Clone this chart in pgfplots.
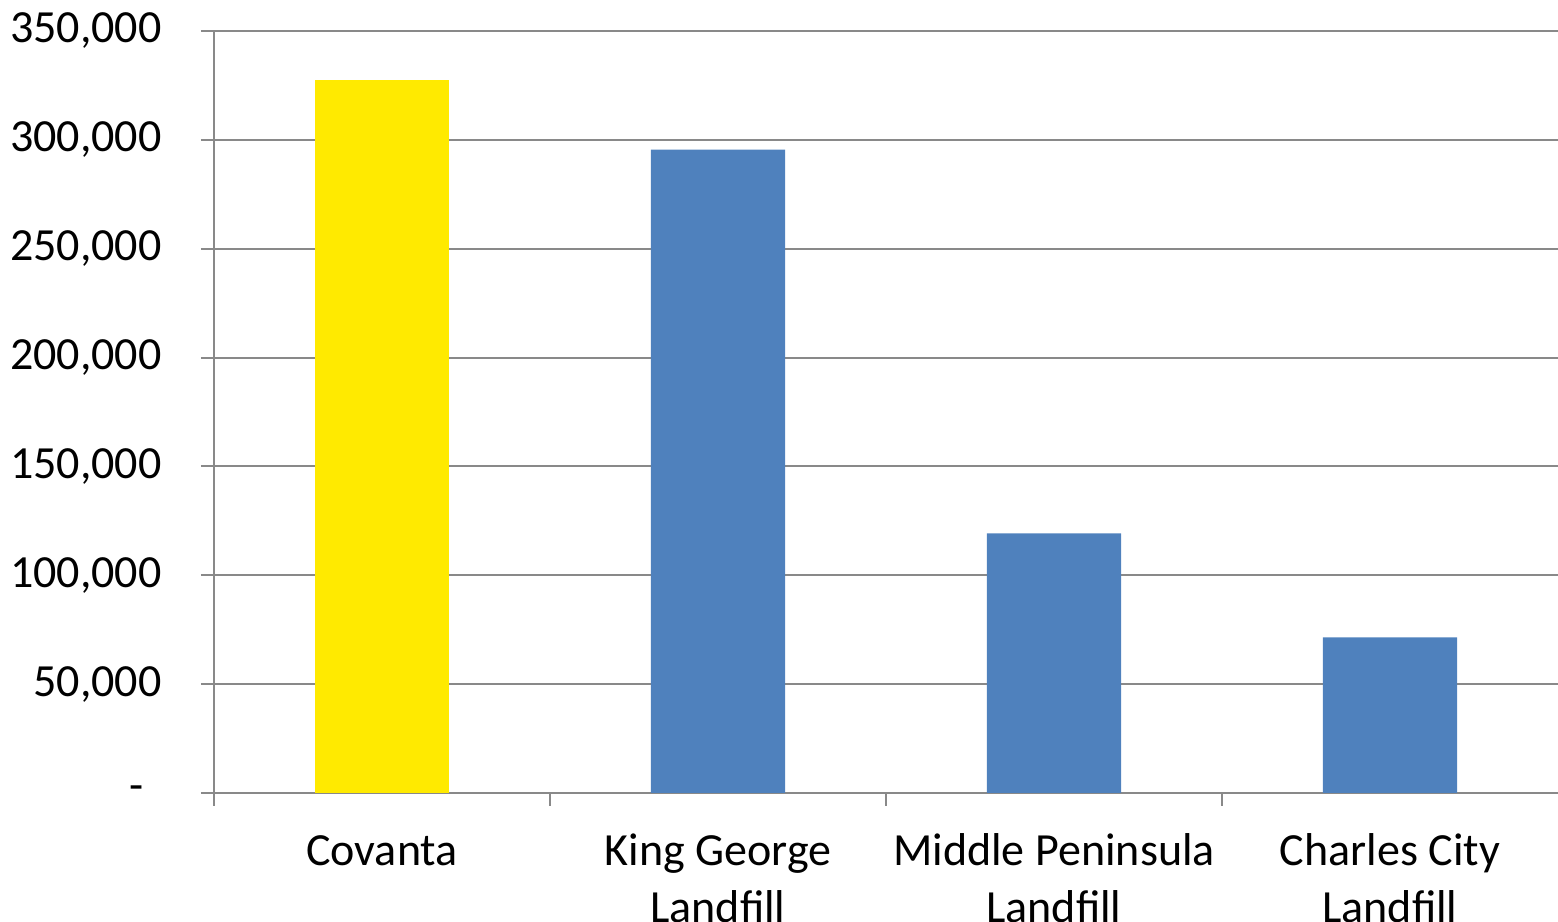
\documentclass[border=0pt]{standalone}
\usepackage{fontspec}
\setmainfont{Carlito}
\usepackage{pgfplots}
\pgfplotsset{compat=1.18}
\definecolor{barblue}{HTML}{4F81BD}
\definecolor{baryellow}{HTML}{FFEA00}
\definecolor{gridgray}{HTML}{898989}
\begin{document}
\begin{tikzpicture}[font=\fontsize{13.1}{16}\selectfont]
\begin{axis}[
    name=ax,
    scale only axis,
    width=13.44cm, height=7.62cm,
    xmin=-0.5, xmax=3.5,
    ymin=0, ymax=350000,
    axis lines*=left,
    axis line style={draw=gridgray, line width=0.6pt},
    scaled y ticks=false,
    ytick={0,50000,100000,150000,200000,250000,300000,350000},
    yticklabels={{\makebox[0.32cm][l]{-}},{50,000},{100,000},{150,000},{200,000},{250,000},{300,000},{350,000}},
    xtick={0,1,2,3},
    xticklabels={{\strut Covanta},{\strut King George\\Landfill},{\strut Middle Peninsula\\Landfill},{\strut Charles City\\Landfill}},
    minor xtick={-0.5,0.5,1.5,2.5},
    tick label style={font=\fontsize{13.1}{16}\selectfont},
    xticklabel style={align=center, yshift=-0.08cm},
    yticklabel style={xshift=-0.27cm},
    tick align=outside,
    major tick length=0.13cm,
    minor tick length=0.13cm,
    major x tick style={draw=none},
    tick style={draw=gridgray, line width=0.6pt},
    ymajorgrids=true,
    grid style={draw=gridgray, line width=0.6pt},
    ybar, bar width=0.4,
]
\addplot[fill=baryellow, draw=none, bar shift=0pt] coordinates {(0,327500)};
\addplot[fill=barblue, draw=none, bar shift=0pt] coordinates {(1,295500) (2,119300) (3,71500)};
\end{axis}
\pgfresetboundingbox
\path[use as bounding box] ([shift={(-2.14cm,-1.29cm)}]ax.south west) rectangle ([shift={(0,0.31cm)}]ax.north east);
\end{tikzpicture}
\end{document}
